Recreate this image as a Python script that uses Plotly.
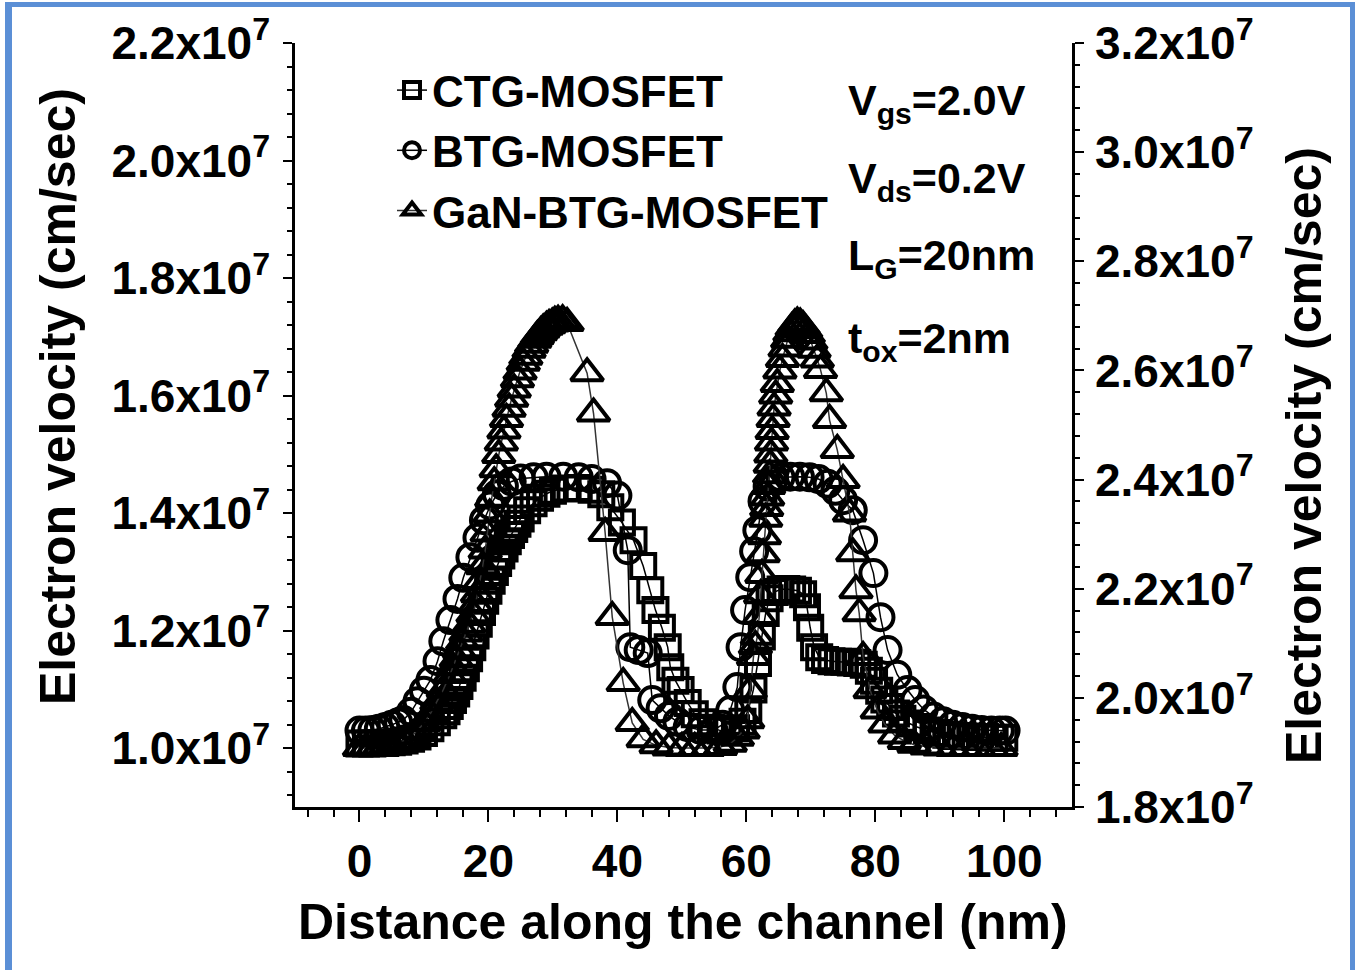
import plotly.graph_objects as go

# ---- data: distance along the channel (nm) and electron velocity (x10^7 cm/s) ----
ctg_x = [0, 1, 2, 3, 4, 5, 6, 7, 8, 9, 10, 11, 12, 13, 13.5, 14, 14.5, 15, 15.5, 16, 16.5, 17, 17.5,
         18, 18.5, 19, 19.5, 20, 20.5, 21, 21.5, 22, 22.5, 23, 23.5, 24, 24.5, 25, 26, 27, 28, 29, 30,
         32, 34, 36, 37.5, 38.9, 40.7, 42.5, 44, 45.1, 45.9, 46.9, 47.8, 48.2, 49, 49.8, 50.9, 52,
         53.2, 54.5, 56, 57.2, 58.4, 59.4, 60.3, 61.1, 61.8, 62.4, 63, 63.6, 64.4, 65.3, 66.2, 67.1,
         68, 68.8, 69.4, 69.9, 70.5, 71.3, 72.2, 73.2, 74.2, 75.2, 76.2, 77.2, 78.2, 79, 79.8, 80.6,
         81.4, 82.3, 83.2, 84.2, 85.3, 86.5, 88, 89.5, 91, 92.5, 94, 95.5, 97, 98.5, 100]
ctg_v = [1.008, 1.008, 1.008, 1.009, 1.009, 1.010, 1.011, 1.013, 1.016, 1.020, 1.026, 1.034, 1.044,
         1.056, 1.063, 1.072, 1.082, 1.093, 1.106, 1.120, 1.136, 1.153, 1.172, 1.192, 1.212, 1.232,
         1.251, 1.268, 1.285, 1.300, 1.315, 1.328, 1.340, 1.352, 1.363, 1.373, 1.382, 1.391, 1.405,
         1.417, 1.426, 1.433, 1.438, 1.442, 1.443, 1.440, 1.432, 1.410, 1.384, 1.354, 1.310, 1.269,
         1.235, 1.205, 1.172, 1.138, 1.115, 1.099, 1.077, 1.058, 1.044, 1.035, 1.030, 1.030, 1.034,
         1.045, 1.065, 1.100, 1.145, 1.190, 1.230, 1.255, 1.266, 1.270, 1.271, 1.270, 1.268, 1.262,
         1.240, 1.205, 1.172, 1.155, 1.150, 1.148, 1.147, 1.147, 1.146, 1.145, 1.142, 1.132, 1.115,
         1.098, 1.083, 1.070, 1.059, 1.050, 1.042, 1.036, 1.030, 1.026, 1.023, 1.021, 1.020, 1.019,
         1.019, 1.018, 1.018]

btg_x = [0, 1, 2, 3, 4, 5, 6, 6.8, 8, 9, 10, 11, 12.1, 13, 14.1, 15.2, 16.1, 17.2, 18.3, 19.3, 20.3,
         21.3, 22.4, 23.6, 25, 27, 29, 31.6, 34, 36, 38.4, 40, 41.6, 42, 43.3, 44.7, 45.4, 46.7, 48,
         49.3, 50.9, 52.9, 54.9, 56.3, 57.5, 58.6, 59.1, 59.8, 60.6, 61.2, 61.7, 62.5, 63.3, 64.2,
         65.3, 66.8, 68.3, 69.8, 71.2, 72.6, 73.8, 75, 76.5, 78.1, 79.7, 80.8, 81.9, 83.4, 85, 86.2,
         87.5, 89, 90.5, 92, 93.5, 95, 96.5, 98, 99.3, 100.2]
btg_v = [1.030, 1.030, 1.031, 1.033, 1.036, 1.040, 1.044, 1.048, 1.062, 1.080, 1.098, 1.116, 1.148,
         1.182, 1.218, 1.254, 1.290, 1.325, 1.358, 1.388, 1.413, 1.432, 1.446, 1.454, 1.459, 1.461,
         1.462, 1.462, 1.461, 1.458, 1.451, 1.430, 1.337, 1.172, 1.167, 1.162, 1.082, 1.068, 1.055,
         1.045, 1.036, 1.031, 1.031, 1.040, 1.065, 1.104, 1.172, 1.235, 1.291, 1.335, 1.371, 1.420,
         1.445, 1.456, 1.461, 1.462, 1.462, 1.461, 1.458, 1.450, 1.438, 1.422, 1.405, 1.354, 1.298,
         1.223, 1.167, 1.125, 1.099, 1.082, 1.066, 1.054, 1.046, 1.040, 1.036, 1.033, 1.031, 1.030,
         1.030, 1.030]

# GaN-BTG-MOSFET is read against the right-hand axis
gan_x = [0, 1, 2, 3, 4, 5, 6, 7, 8, 9, 10, 11, 12, 13, 14, 14.5, 15, 15.5, 16, 16.5, 17, 17.6, 18,
         18.3, 18.7, 19.1, 19.5, 19.8, 20.2, 20.5, 20.9, 21.2, 21.6, 22, 22.4, 22.8, 23.2, 23.6, 24,
         24.5, 24.9, 25.4, 25.8, 26.3, 26.7, 27.2, 27.6, 28.1, 28.5, 29, 29.4, 29.9, 30.3, 30.8,
         31.5, 32.2, 35.3, 36.3, 38.1, 39.2, 40.9, 42.3, 44, 46, 48, 50, 52, 54, 56, 57.5, 58.6,
         59.5, 60.2, 60.6, 61.1, 61.4, 61.7, 62.0, 62.2, 62.4, 62.6, 62.8, 63, 63.15, 63.3, 63.45,
         63.6, 63.7, 63.8, 63.9, 64.0, 64.15, 64.3, 64.55, 64.8, 65.2, 65.6, 66.0, 66.4, 66.75, 67.1,
         67.5, 67.9, 68.35, 68.8, 69.2, 69.6, 70.0, 70.5, 71.0, 71.5, 72.4, 72.9, 74.1, 75.0, 76.0,
         76.5, 77.0, 77.5, 78.1, 79.2, 80.3, 81.5, 83, 84.5, 86, 88, 90, 92, 94, 96, 98, 99.5]
gan_v = [1.908, 1.908, 1.908, 1.909, 1.910, 1.912, 1.916, 1.922, 1.929, 1.940, 1.954, 1.971, 1.992,
         2.015, 2.042, 2.056, 2.071, 2.087, 2.103, 2.118, 2.134, 2.153, 2.172, 2.190, 2.214, 2.241,
         2.270, 2.301, 2.336, 2.365, 2.395, 2.419, 2.445, 2.468, 2.490, 2.511, 2.530, 2.548, 2.565,
         2.584, 2.598, 2.614, 2.625, 2.638, 2.647, 2.656, 2.663, 2.670, 2.675, 2.680, 2.683, 2.686,
         2.689, 2.691, 2.692, 2.687, 2.595, 2.521, 2.302, 2.148, 2.027, 1.954, 1.924, 1.913, 1.909,
         1.908, 1.908, 1.908, 1.910, 1.916, 1.927, 1.940, 1.959, 2.014, 2.075, 2.095, 2.112, 2.150,
         2.188, 2.225, 2.263, 2.296, 2.328, 2.348, 2.367, 2.388, 2.408, 2.427, 2.446, 2.468, 2.489,
         2.511, 2.532, 2.554, 2.575, 2.600, 2.621, 2.640, 2.656, 2.668, 2.678, 2.684, 2.688, 2.686,
         2.681, 2.674, 2.665, 2.653, 2.638, 2.620, 2.601, 2.558, 2.509, 2.454, 2.399, 2.338, 2.265,
         2.197, 2.155, 2.075, 2.014, 1.977, 1.951, 1.931, 1.921, 1.914, 1.911, 1.909, 1.908, 1.908,
         1.908, 1.908, 1.908]

x_ticks = [0, 20, 40, 60, 80, 100]
left_ticks = [1.0, 1.2, 1.4, 1.6, 1.8, 2.0, 2.2]
right_ticks = [1.8, 2.0, 2.2, 2.4, 2.6, 2.8, 3.0, 3.2]

# ---- page geometry (pixels) ----
W, H = 1356, 970
PL, PR, PT, PB = 295, 1072, 43, 807
FONT = "Liberation Sans, Arial, sans-serif"


def fx(p):
    return (p - PL) / (PR - PL)


def fy(p):
    return (PB - p) / (PB - PT)


def sci(v):
    return f"{v:.1f}x10<sup>7</sup>"


HOLLOW = "rgba(0,0,0,0)"
line_style = dict(color="black", width=1.5)

fig = go.Figure()
fig.add_trace(go.Scatter(
    x=ctg_x, y=ctg_v, name="CTG-MOSFET", mode="lines+markers",
    line=line_style,
    marker=dict(symbol="square", size=24, color=HOLLOW, line=dict(width=4, color="black")),
))
fig.add_trace(go.Scatter(
    x=btg_x, y=btg_v, name="BTG-MOSFET", mode="lines+markers",
    line=line_style,
    marker=dict(symbol="circle", size=26, color=HOLLOW, line=dict(width=4, color="black")),
))
fig.add_trace(go.Scatter(
    x=gan_x, y=gan_v, name="GaN-BTG-MOSFET", mode="lines+markers", yaxis="y2",
    line=dict(color="#333333", width=1.5),
    marker=dict(symbol="triangle-up", size=28, color=HOLLOW, line=dict(width=4, color="black")),
))

tick_font = dict(family=FONT, size=46, color="black", weight="bold")
axis_common = dict(showline=True, linecolor="black", linewidth=2.5, showgrid=False,
                   zeroline=False, tickcolor="black", tickwidth=2)

fig.update_layout(
    width=W, height=H,
    margin=dict(l=PL, r=W - PR, t=PT, b=H - PB, autoexpand=False),
    paper_bgcolor="white", plot_bgcolor="white",
    showlegend=True,
    legend=dict(
        x=fx(392), y=fy(55), xanchor="left", yanchor="top",
        bgcolor="rgba(0,0,0,0)", borderwidth=0,
        font=dict(family=FONT, size=44, color="black", weight="bold"),
        tracegroupgap=0, itemsizing="trace",
    ),
    xaxis=dict(
        range=[-10, 110.5], tickmode="array", tickvals=x_ticks,
        ticktext=[str(v) for v in x_ticks],
        ticks="outside", ticklen=12, tickfont=tick_font, ticklabelstandoff=0,
        minor=dict(tickmode="linear", tick0=0, dtick=4, ticks="outside", ticklen=7,
                   tickwidth=2, tickcolor="black"),
        mirror=False, **axis_common,
    ),
    xaxis2=dict(
        range=[-10, 110.5], overlaying="x", side="top", anchor="y",
        tickmode="array", tickvals=x_ticks, showticklabels=False,
        ticks="inside", ticklen=10,
        minor=dict(tickmode="linear", tick0=0, dtick=4, ticks="inside", ticklen=6,
                   tickwidth=2, tickcolor="black"),
        **axis_common,
    ),
    yaxis=dict(
        range=[0.9, 2.2], tickmode="array", tickvals=left_ticks,
        ticktext=[sci(v) for v in left_ticks],
        ticks="outside", ticklen=9, tickfont=tick_font, ticklabelstandoff=4,
        minor=dict(tickmode="linear", tick0=1.0, dtick=0.04, ticks="outside", ticklen=5,
                   tickwidth=2, tickcolor="black"),
        mirror=False, **axis_common,
    ),
    yaxis2=dict(
        range=[1.8, 3.2], overlaying="y", side="right", anchor="x",
        tickmode="array", tickvals=right_ticks,
        ticktext=[sci(v) for v in right_ticks],
        ticks="outside", ticklen=9, tickfont=tick_font, ticklabelstandoff=2,
        minor=dict(tickmode="linear", tick0=1.8, dtick=0.04, ticks="outside", ticklen=5,
                   tickwidth=2, tickcolor="black"),
        **axis_common,
    ),
)

# axis titles
title_font = dict(family=FONT, size=50, color="black", weight="bold")
fig.add_annotation(text="Distance along the channel (nm)", xref="paper", yref="paper",
                   x=fx(683), y=fy(922), xanchor="center", yanchor="middle",
                   showarrow=False, font=title_font)
fig.add_annotation(text="Electron velocity (cm/sec)", xref="paper", yref="paper",
                   x=fx(58), y=fy(397), xanchor="center", yanchor="middle",
                   textangle=-90, showarrow=False, font=title_font)
fig.add_annotation(text="Electron velocity (cm/sec)", xref="paper", yref="paper",
                   x=fx(1304), y=fy(456), xanchor="center", yanchor="middle",
                   textangle=-90, showarrow=False, font=title_font)

# bias and geometry conditions
cond_font = dict(family=FONT, size=43, color="black", weight="bold")
conditions = ["V<sub>gs</sub>=2.0V", "V<sub>ds</sub>=0.2V", "L<sub>G</sub>=20nm", "t<sub>ox</sub>=2nm"]
cond_top = [74, 152, 229, 312]
for txt, top in zip(conditions, cond_top):
    fig.add_annotation(text=txt, xref="paper", yref="paper", x=fx(846), y=fy(top),
                       xanchor="left", yanchor="top", showarrow=False, font=cond_font)

# blue frame around the figure
frame_color = "#5b8fd6"
for x0, y0, x1, y1 in [(5, 2, 12, 970), (5, 2, 1355, 7), (1350, 2, 1355, 970)]:
    fig.add_shape(type="rect", xref="paper", yref="paper",
                  x0=fx(x0), x1=fx(x1), y0=fy(y1), y1=fy(y0),
                  fillcolor=frame_color, line=dict(width=0), layer="above")

fig.write_html("out.html")
